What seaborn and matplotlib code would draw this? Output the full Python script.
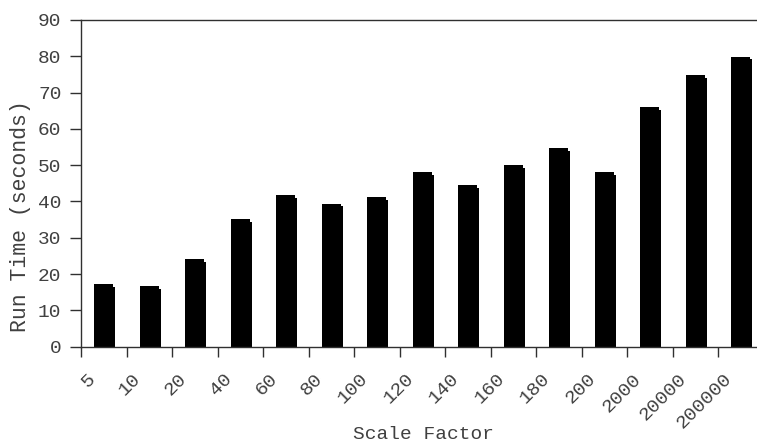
import matplotlib
matplotlib.use("Agg")
import matplotlib.pyplot as plt
from matplotlib.transforms import ScaledTranslation
import seaborn as sns
import pandas as pd
import numpy as np

# Run time measured for each scale factor
scale_factors = ["5", "10", "20", "40", "60", "80", "100", "120", "140", "160",
                 "180", "200", "2000", "20000", "200000"]
run_times = [17.2, 16.7, 24.2, 35.1, 41.8, 39.4, 41.2, 48.0, 44.5, 50.0,
             54.7, 48.0, 66.0, 74.8, 79.9]
y_ticks = [0, 10, 20, 30, 40, 50, 60, 70, 80, 90]

sns.set_theme(style="white")
plt.rcParams["font.family"] = ["Liberation Mono", "DejaVu Sans Mono"]

df = pd.DataFrame({"Scale Factor": scale_factors, "Run Time": run_times})

fig = plt.figure(figsize=(7.57, 4.44), dpi=100)
ax = fig.add_axes([81 / 757, 97.3 / 444, 682.5 / 757, 326.7 / 444])

# small drop shadow behind each bar
xs = np.arange(len(run_times))
ax.bar(xs + 0.04, np.array(run_times) - 0.75, width=0.425,
       color="black", edgecolor="#777777", linewidth=0.4, zorder=1)

sns.barplot(data=df, x="Scale Factor", y="Run Time", color="black",
            saturation=1, width=0.425, ax=ax, zorder=2)
for p in ax.patches:
    p.set_edgecolor("none")

ax.set_xlim(-0.5, len(run_times) - 0.5)
ax.set_ylim(0, 90)
ax.set_yticks(y_ticks)
ax.set_yticklabels([str(t) for t in y_ticks])

text_color = "#404040"
line_color = "#303030"

# category labels at bar centres, tick marks at category boundaries
ax.set_xticks(xs)
ax.set_xticklabels(scale_factors, rotation=45, ha="right", va="top",
                   rotation_mode="anchor", fontsize=14, color=text_color)
ax.set_xticks(np.arange(len(run_times) + 1) - 0.5, minor=True)
ax.tick_params(axis="x", which="major", length=0, pad=17)
ax.tick_params(axis="x", which="minor", length=7, width=1,
               direction="out", color=line_color, bottom=True)
ax.tick_params(axis="y", which="major", length=8, width=1,
               direction="out", color=line_color, left=True,
               labelsize=14, labelcolor=text_color, pad=6)

# nudge the slanted labels left so their ends sit before the bar centres
shift = ScaledTranslation(-0.17, 0, fig.dpi_scale_trans)
for tick in ax.xaxis.get_major_ticks():
    tick.label1.set_transform(tick.label1.get_transform() + shift)

for side in ["left", "bottom", "top"]:
    ax.spines[side].set_visible(True)
    ax.spines[side].set_color(line_color)
    ax.spines[side].set_linewidth(1)
ax.spines["right"].set_visible(False)
ax.grid(False)

ax.set_ylabel("Run Time (seconds)", fontsize=15.5, color=text_color)
ax.yaxis.set_label_coords(-0.089, 0.40)
ax.set_xlabel("Scale Factor", fontsize=14, color=text_color)
ax.xaxis.set_label_coords(0.502, -0.27)
ax.xaxis.label.set_va("center")
ax.yaxis.label.set_va("center")

fig.savefig("out.png", dpi=100)
